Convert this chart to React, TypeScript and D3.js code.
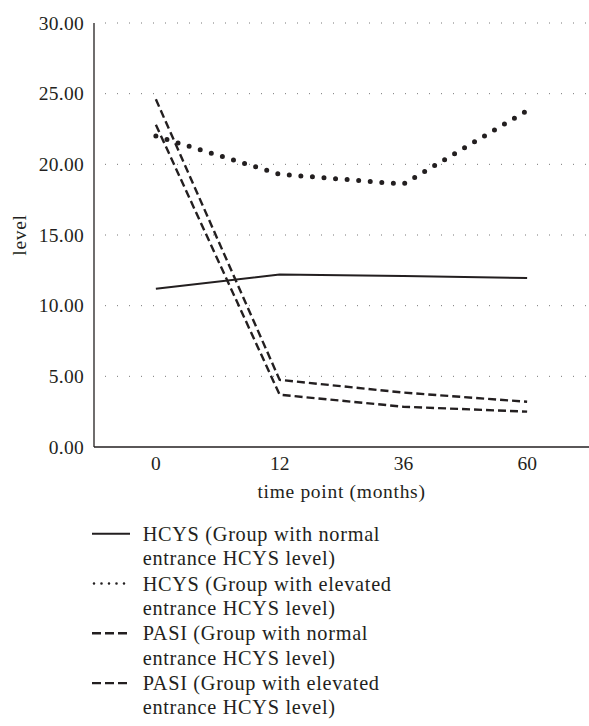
import React from "react";
import * as d3 from "d3";

const categories = ["0", "12", "36", "60"];
const hcysNormal = [11.2, 12.2, 12.1, 11.95];
const hcysElevated = [22.0, 19.3, 18.6, 23.8];
const pasiNormal = [22.8, 3.7, 2.85, 2.5];
const pasiElevated = [24.6, 4.75, 3.85, 3.2];
const yTicks = [0, 5, 10, 15, 20, 25, 30];
const legendLabels = [
  ["HCYS (Group with normal", "entrance HCYS level)"],
  ["HCYS (Group with elevated", "entrance HCYS level)"],
  ["PASI (Group with normal", "entrance HCYS level)"],
  ["PASI (Group with elevated", "entrance HCYS level)"],
];

const W = 589;
const H = 726;
const left = 94;
const right = 589;
const top = 23;
const bottom = 447;
const ink = "#231f20";
const font = "Liberation Serif, DejaVu Serif, Times New Roman, serif";

type Style = { dash?: string; width: number; cap: "butt" | "round" };
const styles: Style[] = [
  { width: 2, cap: "butt" },
  { dash: "0 11.6", width: 5, cap: "round" },
  { dash: "8 4", width: 2.4, cap: "butt" },
  { dash: "8 4", width: 2.4, cap: "butt" },
];

export default function App() {
  const x = d3.scaleBand<string>().domain(categories).range([left, right]);
  const y = d3.scaleLinear().domain([0, 30]).range([bottom, top]);
  const cx = (c: string) => (x(c) ?? 0) + x.bandwidth() / 2;
  const line = d3
    .line<number>()
    .x((_, i) => cx(categories[i]))
    .y((d) => y(d));
  const series = [hcysNormal, hcysElevated, pasiNormal, pasiElevated];
  const fmt = d3.format(".2f");
  const ts = { fontFamily: font };
  const ls = { fontFamily: font, letterSpacing: "0.7px" };

  return (
    <svg
      width={W}
      height={H}
      style={{ position: "absolute", left: 0, top: 0, background: "#fff", fontFamily: font }}
    >
      <rect width={W} height={H} fill="#fff" />
      {yTicks.slice(1).map((t) => (
        <line
          key={"g" + t}
          x1={left + 11}
          x2={right}
          y1={y(t)}
          y2={y(t)}
          stroke="#777"
          strokeWidth={1}
          strokeDasharray="1 11"
        />
      ))}
      {yTicks.map((t) => (
        <text
          key={"t" + t}
          x={84}
          y={y(t)}
          dy="0.34em"
          textAnchor="end"
          fontSize={19.5}
          fill={ink}
          style={{ fontFamily: font, letterSpacing: "0.3px" }}
        >
          {fmt(t)}
        </text>
      ))}
      <line x1={left} x2={left} y1={top} y2={bottom} stroke={ink} strokeWidth={1.3} />
      <line x1={left} x2={right} y1={bottom} y2={bottom} stroke={ink} strokeWidth={1.3} />
      {categories.map((c) => (
        <text key={"x" + c} x={cx(c)} y={470} textAnchor="middle" fontSize={19.5} fill={ink} style={ts}>
          {c}
        </text>
      ))}
      <text x={(left + right) / 2} y={498} textAnchor="middle" fontSize={19.5} fill={ink} style={ls}>
        time point (months)
      </text>
      <text
        transform={`translate(26, ${(top + bottom) / 2}) rotate(-90)`}
        textAnchor="middle"
        fontSize={19.5}
        fill={ink}
        style={ls}
      >
        level
      </text>
      {series.map((s, i) => (
        <path
          key={"s" + i}
          d={line(s) ?? ""}
          fill="none"
          stroke={ink}
          strokeWidth={styles[i].width}
          strokeDasharray={styles[i].dash}
          strokeLinecap={styles[i].cap}
          strokeLinejoin="round"
        />
      ))}
      {legendLabels.map((lab, i) => {
        const base = 540.7 + i * 49.8;
        const st = styles[i];
        return (
          <g key={"l" + i}>
            <line
              x1={i === 1 ? 94 : 92}
              x2={i === 1 ? 128 : 130}
              y1={base - 7}
              y2={base - 7}
              stroke={ink}
              strokeWidth={i === 1 ? 2.6 : st.width}
              strokeDasharray={i === 1 ? "0 7.5" : i >= 2 ? "9 4" : undefined}
              strokeLinecap={st.cap}
            />
            <text x={142.7} y={base} fontSize={20.3} fill={ink} style={ls}>
              {lab[0]}
            </text>
            <text x={142.7} y={base + 24.2} fontSize={20.3} fill={ink} style={ls}>
              {lab[1]}
            </text>
          </g>
        );
      })}
    </svg>
  );
}
